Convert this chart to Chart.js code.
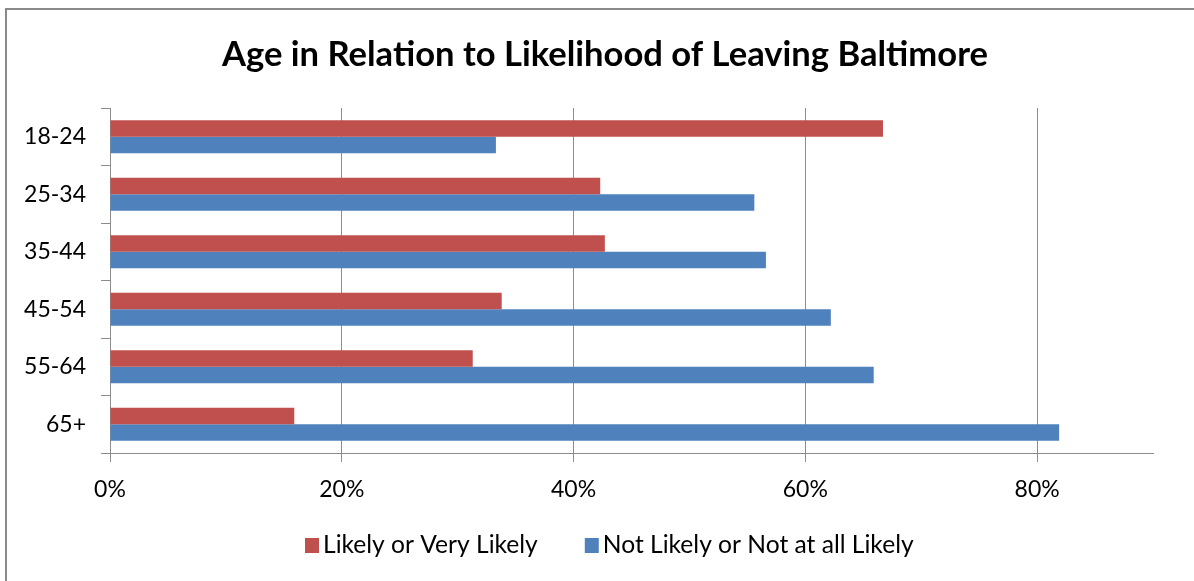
<html>
<head>
<meta charset="utf-8">
<title>Age in Relation to Likelihood of Leaving Baltimore</title>
<script src="https://cdn.jsdelivr.net/npm/chart.js@4.4.1/dist/chart.umd.min.js"></script>
<style>
  body { margin: 0; background: #fff; }
  #wrap { width: 1194px; height: 581px; }
</style>
</head>
<body>
<div id="wrap"><canvas id="bar-chart"></canvas></div>
<script>
// survey shares (%) by age group
const ageGroups = ['18-24', '25-34', '35-44', '45-54', '55-64', '65+'];
const likely = [66.7, 42.3, 42.7, 33.8, 31.3, 15.9];
const notLikely = [33.3, 55.6, 56.6, 62.2, 65.9, 81.9];
const seriesNames = ['Likely or Very Likely', 'Not Likely or Not at all Likely'];
const xTicks = [0, 20, 40, 60, 80];
const chartTitle = 'Age in Relation to Likelihood of Leaving Baltimore';

const FONT = 'Lato';
const GRID = '#8c8c8c';

// grey frame on the top and left edges, plus the heading
const framePlugin = {
  id: 'frame',
  beforeDraw(chart) {
    const ctx = chart.ctx;
    ctx.save();
    ctx.fillStyle = '#8a8a8a';
    ctx.fillRect(5, 8, chart.width - 5, 2);
    ctx.fillRect(5, 8, 2, chart.height - 8);
    ctx.fillStyle = '#000';
    ctx.font = 'bold 34.6px ' + FONT;
    ctx.textAlign = 'center';
    ctx.textBaseline = 'middle';
    ctx.fillText(chartTitle, 605, 55);
    ctx.restore();
  }
};

// legend row under the axis, built from the datasets
const legendRow = {
  id: 'legendRow',
  afterDraw(chart) {
    const ctx = chart.ctx;
    ctx.save();
    ctx.font = '24.6px ' + FONT;
    ctx.textBaseline = 'middle';
    let x = 305;
    const y = 545;
    chart.data.datasets.forEach(ds => {
      ctx.fillStyle = ds.backgroundColor;
      ctx.fillRect(x, y - 7, 14, 15);
      ctx.fillStyle = '#000';
      ctx.fillText(ds.label, x + 18, y);
      x += 18 + ctx.measureText(ds.label).width + 47;
    });
    ctx.restore();
  }
};

new Chart(document.getElementById('bar-chart'), {
  type: 'bar',
  data: {
    labels: ageGroups,
    datasets: [
      { label: seriesNames[0], data: likely, backgroundColor: '#C0504D' },
      { label: seriesNames[1], data: notLikely, backgroundColor: '#4F81BD' }
    ]
  },
  options: {
    indexAxis: 'y',
    responsive: true,
    maintainAspectRatio: false,
    animation: false,
    datasets: { bar: { barPercentage: 1, categoryPercentage: 0.57 } },
    layout: { padding: { left: 0, right: 41, top: 108, bottom: 0 } },
    plugins: {
      legend: { display: false },
      tooltip: { enabled: false },
      title: { display: false }
    },
    scales: {
      x: {
        min: 0,
        max: 90,
        ticks: {
          stepSize: 20,
          color: '#000',
          font: { family: FONT, size: 23 },
          padding: 14,
          callback: v => v + '%'
        },
        afterBuildTicks: s => { s.ticks = s.ticks.filter(t => xTicks.includes(t.value)); },
        afterFit: s => { s.height = 128; },
        grid: { color: GRID, tickLength: 9 },
        border: { color: GRID }
      },
      y: {
        ticks: { color: '#000', font: { family: FONT, size: 23 }, padding: 15 },
        afterFit: s => { s.width = 110; },
        grid: { drawOnChartArea: false, color: GRID, tickLength: 9 },
        border: { color: GRID }
      }
    }
  },
  plugins: [framePlugin, legendRow]
});
</script>
</body>
</html>
